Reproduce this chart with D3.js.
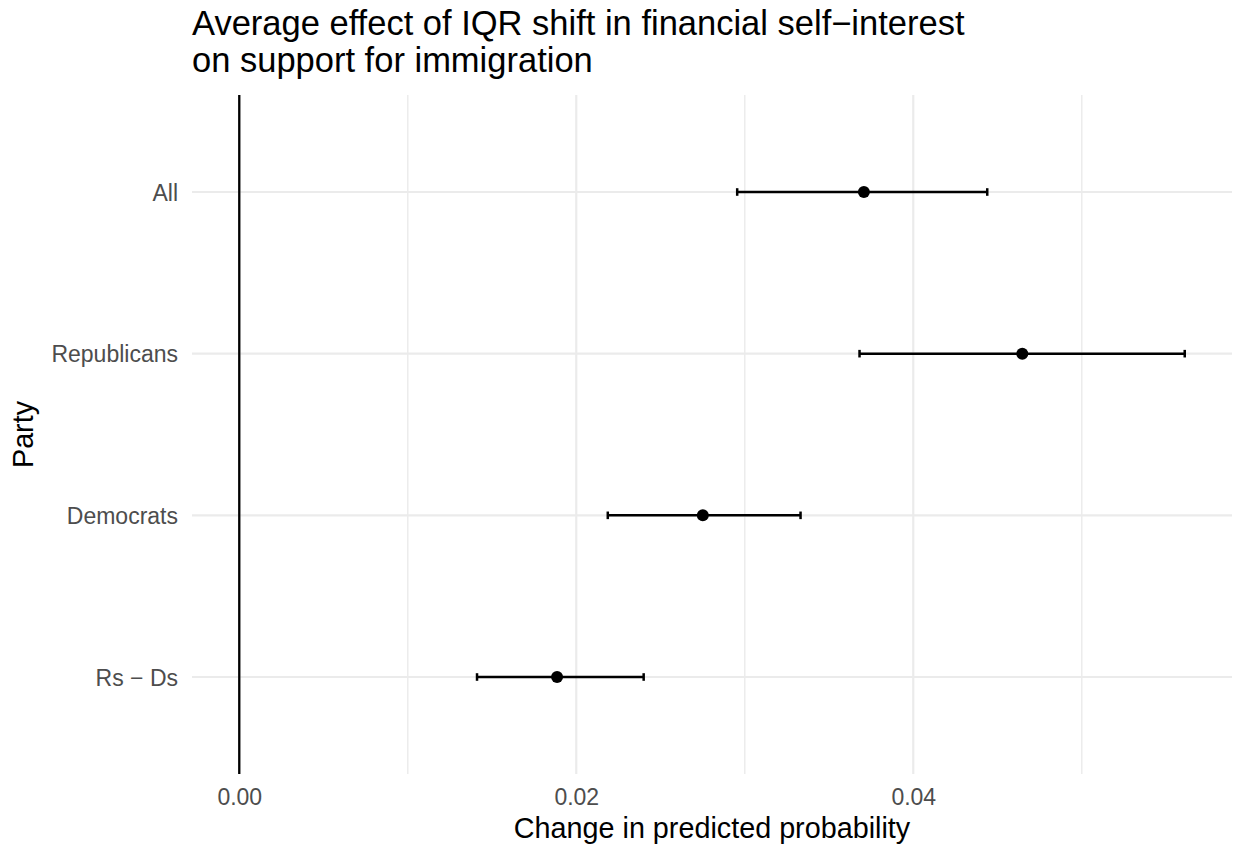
<!DOCTYPE html>
<html>
<head>
<meta charset="utf-8">
<script src="https://cdn.jsdelivr.net/npm/d3@7"></script>
<style>
  body { margin: 0; background: #fff; }
  text { font-family: "Liberation Sans", Arial, Helvetica, sans-serif; }
</style>
</head>
<body>
<div id="chart"></div>
<script>
// estimates
const groups = ["All", "Republicans", "Democrats", "Rs \u2212 Ds"];
const est    = [0.03707, 0.04647, 0.02751, 0.01886];
const lower  = [0.02955, 0.03681, 0.02187, 0.01411];
const upper  = [0.04439, 0.05611, 0.03331, 0.02400];
const xTicks = [0, 0.02, 0.04];
const xMinor = [0.01, 0.03, 0.05];
const titleLines = ["Average effect of IQR shift in financial self\u2212interest",
                    "on support for immigration"];
const xTitle = "Change in predicted probability";
const yTitle = "Party";

const W = 1235, H = 847;
const pad = { left: 192, right: 3, top: 95, bottom: 73 };

const svg = d3.select("#chart").append("svg")
  .attr("width", W).attr("height", H);

// ggplot style 5% expansion around [0, max]
let lo = Math.min(0, d3.min(lower)), hi = d3.max(upper);
let ex = (hi - lo) * 0.05;
const x = d3.scaleLinear().domain([lo - ex, hi + ex]).range([pad.left, W - pad.right]);
const y = d3.scalePoint().domain(groups).range([pad.top, H - pad.bottom]).padding(0.6);

const grid = svg.append("g").attr("class", "grid");
grid.selectAll("line.minor").data(xMinor).enter().append("line")
  .attr("x1", d => x(d)).attr("x2", d => x(d))
  .attr("y1", pad.top).attr("y2", H - pad.bottom)
  .attr("stroke", "#ebebeb").attr("stroke-width", 1.4);
grid.selectAll("line.majx").data(xTicks).enter().append("line")
  .attr("x1", d => x(d)).attr("x2", d => x(d))
  .attr("y1", pad.top).attr("y2", H - pad.bottom)
  .attr("stroke", "#ebebeb").attr("stroke-width", 2.2);
grid.selectAll("line.majy").data(groups).enter().append("line")
  .attr("x1", pad.left).attr("x2", W - pad.right)
  .attr("y1", d => y(d)).attr("y2", d => y(d))
  .attr("stroke", "#ebebeb").attr("stroke-width", 2.2);

// zero reference line
svg.append("line")
  .attr("x1", x(0)).attr("x2", x(0))
  .attr("y1", pad.top).attr("y2", H - pad.bottom)
  .attr("stroke", "#000").attr("stroke-width", 2.3);

// axes, ggplot minimal look: no domain line, no ticks
const xAxis = svg.append("g")
  .attr("transform", "translate(0," + (H - pad.bottom) + ")")
  .call(d3.axisBottom(x).tickValues(xTicks).tickFormat(d3.format(".2f")).tickSize(0));
const yAxis = svg.append("g")
  .attr("transform", "translate(" + pad.left + ",0)")
  .call(d3.axisLeft(y).tickSize(0).tickPadding(14));
[xAxis, yAxis].forEach(a => {
  a.select(".domain").remove();
  a.selectAll("text").attr("fill", "#4d4d4d").style("font-size", "23px")
    .style("font-family", "'Liberation Sans', Arial, sans-serif");
});
xAxis.selectAll("text").attr("dy", null).attr("y", 31);
yAxis.selectAll("text").attr("dy", "0.36em");

// error bars and points
const rows = svg.append("g").selectAll("g.row").data(groups).enter()
  .append("g").attr("class", "row");
rows.append("line")
  .attr("x1", (d, i) => x(lower[i])).attr("x2", (d, i) => x(upper[i]))
  .attr("y1", d => y(d)).attr("y2", d => y(d))
  .attr("stroke", "#000").attr("stroke-width", 2.5);
[lower, upper].forEach(arr => {
  rows.append("line")
    .attr("x1", (d, i) => x(arr[i])).attr("x2", (d, i) => x(arr[i]))
    .attr("y1", d => y(d) - 3.8).attr("y2", d => y(d) + 3.8)
    .attr("stroke", "#000").attr("stroke-width", 2.5);
});
rows.append("circle")
  .attr("cx", (d, i) => x(est[i])).attr("cy", d => y(d))
  .attr("r", 6).attr("fill", "#000");

// titles
svg.append("text").attr("x", pad.left).attr("y", 35)
  .style("font-size", "34.5px").attr("fill", "#000")
  .selectAll("tspan").data(titleLines).enter().append("tspan")
  .attr("x", pad.left).attr("dy", (d, i) => i ? 37 : 0).text(d => d);

svg.append("text")
  .attr("x", (pad.left + W - pad.right) / 2).attr("y", 838)
  .attr("text-anchor", "middle").style("font-size", "28.75px").attr("fill", "#000")
  .text(xTitle);

svg.append("text")
  .attr("transform", "translate(33," + ((pad.top + H - pad.bottom) / 2) + ") rotate(-90)")
  .attr("text-anchor", "middle").style("font-size", "28.75px").attr("fill", "#000")
  .text(yTitle);
</script>
</body>
</html>
